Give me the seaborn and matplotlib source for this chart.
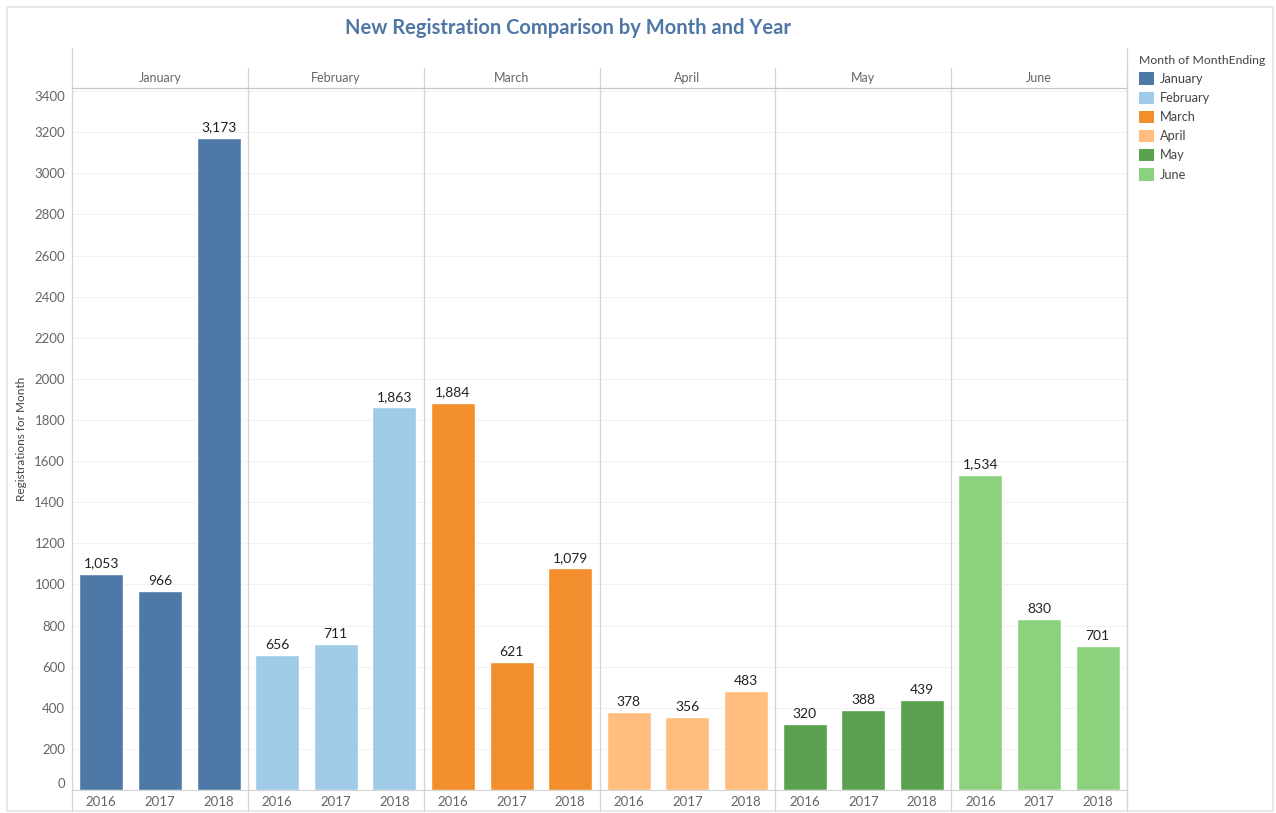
import numpy as np
import pandas as pd
import matplotlib.pyplot as plt
import seaborn as sns
from matplotlib.lines import Line2D
from matplotlib.patches import Patch, Rectangle

months = ["January", "February", "March", "April", "May", "June"]
years = ["2016", "2017", "2018"]
january = [1053, 966, 3173]
february = [656, 711, 1863]
march = [1884, 621, 1079]
april = [378, 356, 483]
may = [320, 388, 439]
june = [1534, 830, 701]
month_colors = ["#4e79a7", "#a0cbe8", "#f28e2b", "#ffbe7d", "#59a14f", "#8cd17d"]

values = [january, february, march, april, may, june]
df = pd.DataFrame({
    "Month": np.repeat(months, 3),
    "Year": years * 6,
    "Registrations": np.concatenate(values),
})

sns.set_style("white")
plt.rcParams["font.family"] = ["Lato", "DejaVu Sans"]

W, H = 1276, 813
fig = plt.figure(figsize=(W / 100, H / 100), dpi=100)


def fx(px):
    return px / W


def fy(py):
    return 1 - py / H


# outer border
fig.add_artist(Rectangle((fx(7), fy(811)), fx(1273) - fx(7), fy(7) - fy(811),
                         transform=fig.transFigure, fill=False, edgecolor="#e4e4e4", lw=1.2))

left, right = 72, 1127
top, bottom = 88, 790
pw = (right - left) / 6
grid_c = "#f2f2f2"
line_c = "#d4d4d4"

for i, m in enumerate(months):
    ax = fig.add_axes([fx(left + i * pw), fy(bottom), pw / W, (bottom - top) / H])
    sub = df[df["Month"] == m]
    sns.barplot(data=sub, x="Year", y="Registrations", color=month_colors[i],
                width=0.75, saturation=1, ax=ax)
    ax.set_ylim(0, 3415)
    ax.set_xlim(-0.5, 2.5)
    ax.set_yticks(range(0, 3401, 200))
    ax.grid(axis="y", color=grid_c, lw=0.8)
    ax.set_axisbelow(True)
    for s in ["left", "right", "top"]:
        ax.spines[s].set_visible(False)
    ax.spines["bottom"].set_color(line_c)
    ax.tick_params(axis="x", length=0, pad=4, labelsize=9.5, labelcolor="#666666")
    ax.tick_params(axis="y", length=0, pad=5, labelsize=9.5, labelcolor="#666666")
    ax.set_xlabel("")
    if i == 0:
        ax.set_ylabel("Registrations for Month", fontsize=8.5, color="#444444", labelpad=5)
        ylabels = ax.get_yticklabels()
        ylabels[0].set_va("bottom")
        ylabels[-1].set_va("top")
    else:
        ax.set_ylabel("")
        ax.set_yticklabels([])
    ax.bar_label(ax.containers[0], fmt="{:,.0f}", padding=3, fontsize=10, color="#222222")
    fig.text(fx(left + (i + 0.5) * pw), fy(78), m, ha="center", va="center",
             fontsize=9, color="#666666")

# panel dividers and header line
for i in range(1, 7):
    x = fx(left + i * pw)
    fig.add_artist(Line2D([x, x], [fy(68), fy(811)], transform=fig.transFigure,
                          color=line_c, lw=0.9))
fig.add_artist(Line2D([fx(left), fx(left)], [fy(48), fy(811)], transform=fig.transFigure,
                      color=line_c, lw=0.9))
fig.add_artist(Line2D([fx(left), fx(right)], [fy(top), fy(top)], transform=fig.transFigure,
                      color="#c8c8c8", lw=0.9))
fig.add_artist(Line2D([fx(right), fx(right)], [fy(48), fy(811)], transform=fig.transFigure,
                      color=line_c, lw=0.9))

fig.text(fx(568), fy(28), "New Registration Comparison by Month and Year", ha="center",
         va="center", fontsize=14.5, fontweight="bold", color="#4f77a6")

handles = [Patch(facecolor=c, edgecolor="none", label=m) for m, c in zip(months, month_colors)]
leg = fig.legend(handles=handles, loc="upper left", bbox_to_anchor=(fx(1134), fy(50)),
                 frameon=False, fontsize=9.2, title="Month of MonthEnding", title_fontsize=8.8,
                 handlelength=1.15, handleheight=1.15, handletextpad=0.45, labelspacing=0.5,
                 borderaxespad=0, alignment="left")
leg.get_title().set_color("#444444")
for t in leg.get_texts():
    t.set_color("#444444")

fig.savefig("out.png", dpi=100)
